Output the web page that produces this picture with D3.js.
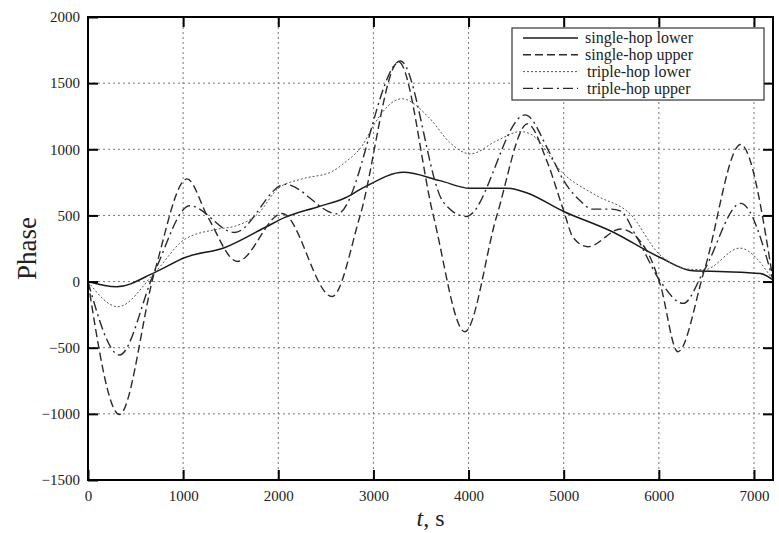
<!DOCTYPE html>
<html>
<head>
<meta charset="utf-8">
<script src="https://cdn.jsdelivr.net/npm/d3@7"></script>
<style>
  body { margin: 0; background: #fff; }
</style>
</head>
<body>
<div class="container"></div>
<script>
// values: [t in s, phase]
const xTicks = [0, 1000, 2000, 3000, 4000, 5000, 6000, 7000];
const yTicks = [-1500, -1000, -500, 0, 500, 1000, 1500, 2000];
const seriesNames = ["single-hop lower", "single-hop upper", "triple-hop lower", "triple-hop upper"];

const singleLower = [
  [0, 0], [300, -40], [704, 70], [1020, 182], [1440, 258], [1860, 409], [2070, 485],
  [2420, 566], [2700, 632], [2900, 712], [3316, 826], [3700, 763], [4017, 705],
  [4400, 705], [4600, 674], [5000, 530], [5490, 384], [6013, 182], [6360, 81],
  [6700, 75], [7066, 61], [7200, 12]
];
const singleUpper = [
  [0, 0], [330, -1005], [700, 75], [1040, 776], [1262, 485], [1570, 152], [2040, 515],
  [2565, -113], [2860, 498], [3265, 1660], [3630, 498], [3960, -379], [4297, 498],
  [4620, 1192], [4822, 914], [5000, 535], [5100, 333], [5255, 263], [5600, 397],
  [5874, 232], [6013, -18], [6200, -530], [6480, 90], [6860, 1036], [7200, 12]
];
const tripleLower = [
  [0, 0], [315, -190], [704, 70], [1020, 321], [1370, 397], [1550, 420], [1790, 515],
  [2000, 705], [2250, 776], [2560, 830], [2700, 900], [2895, 1041], [3000, 1180],
  [3298, 1382], [3596, 1230], [3800, 1053], [4017, 965], [4300, 1066], [4550, 1134],
  [4650, 1116], [5000, 813], [5348, 649], [5700, 510], [6000, 210], [6300, 95],
  [6480, 90], [6850, 253], [7200, 12]
];
const tripleUpper = [
  [0, 0], [330, -555], [700, 75], [1070, 573], [1540, 371], [2071, 735], [2620, 512],
  [3285, 1667], [3736, 599], [3975, 492], [4593, 1260], [4858, 965], [5000, 763],
  [5173, 611], [5300, 548], [5490, 548], [5594, 535], [5769, 333], [6013, 5],
  [6256, -165], [6480, 90], [6860, 591], [7200, 12]
];

const seriesData = [singleLower, singleUpper, tripleLower, tripleUpper];
const seriesDash = ["none", "8,4", "2,2", "10,4,2,4"];
const seriesColor = ["#1a1a1a", "#2a2a2a", "#555", "#2a2a2a"];
const seriesWidth = [1.5, 1.4, 1, 1.4];

function main() {
  const container = document.querySelector(".container");
  const width = 779;
  const height = 533;
  const margin = { left: 88, right: 6, top: 17, bottom: 53 };
  const font = "'Liberation Serif', 'Times New Roman', serif";
  const fmt = d3.format("d");

  const svg = d3
    .create("svg")
    .attr("width", width)
    .attr("height", height)
    .attr("viewBox", [0, 0, width, height])
    .style("display", "block");

  const x = d3
    .scaleLinear()
    .domain([0, 7200])
    .range([margin.left, width - margin.right]);

  const y = d3
    .scaleLinear()
    .domain([-1500, 2000])
    .range([height - margin.bottom, margin.top]);

  // dotted grid
  const grid = svg.append("g").attr("stroke", "#777").attr("stroke-width", 1).attr("stroke-dasharray", "2,3");
  grid
    .selectAll("line.gx")
    .data(xTicks.filter((d) => d > 0))
    .join("line")
    .attr("x1", (d) => x(d))
    .attr("x2", (d) => x(d))
    .attr("y1", y(2000))
    .attr("y2", y(-1500));
  grid
    .selectAll("line.gy")
    .data(yTicks.filter((d) => d > -1500 && d < 2000))
    .join("line")
    .attr("x1", x(0))
    .attr("x2", x(7200))
    .attr("y1", (d) => y(d))
    .attr("y2", (d) => y(d));

  const line = d3
    .line()
    .x((d) => x(d[0]))
    .y((d) => y(d[1]))
    .curve(d3.curveMonotoneX);

  svg
    .append("g")
    .selectAll("path")
    .data(seriesData)
    .join("path")
    .attr("d", line)
    .attr("fill", "none")
    .attr("stroke", (d, i) => seriesColor[i])
    .attr("stroke-width", (d, i) => seriesWidth[i])
    .attr("stroke-dasharray", (d, i) => seriesDash[i]);

  // axes, ticks pointing inward
  const styleAxis = (g) => {
    g.select(".domain").remove();
    g.selectAll(".tick line").attr("stroke", "#000").attr("stroke-width", 2);
    g.selectAll("text").style("font-family", font).style("font-size", "15px").attr("fill", "#222");
  };

  svg
    .append("g")
    .attr("transform", `translate(${x(0)},0)`)
    .call(d3.axisLeft(y).tickValues(yTicks).tickFormat(fmt).tickSize(-10).tickPadding(8))
    .call(styleAxis);

  svg
    .append("g")
    .attr("transform", `translate(${x(7200)},0)`)
    .call(d3.axisRight(y).tickValues(yTicks.slice(1, -1)).tickSize(-10).tickFormat(""))
    .call(styleAxis);

  svg
    .append("g")
    .attr("transform", `translate(0,${y(-1500)})`)
    .call(d3.axisBottom(x).tickValues(xTicks).tickFormat(fmt).tickSize(-10).tickPadding(10))
    .call(styleAxis);

  svg
    .append("g")
    .attr("transform", `translate(0,${y(2000)})`)
    .call(d3.axisTop(x).tickValues(xTicks.slice(1)).tickSize(-10).tickFormat(""))
    .call(styleAxis);

  svg
    .append("rect")
    .attr("x", x(0))
    .attr("y", y(2000))
    .attr("width", x(7200) - x(0))
    .attr("height", y(-1500) - y(2000))
    .attr("fill", "none")
    .attr("stroke", "#000")
    .attr("stroke-width", 2);

  // axis titles
  svg
    .append("text")
    .attr("transform", `translate(36,${(y(2000) + y(-1500)) / 2}) rotate(-90)`)
    .attr("text-anchor", "middle")
    .style("font-family", font)
    .style("font-size", "27px")
    .attr("fill", "#222")
    .text("Phase");

  const xt = svg
    .append("text")
    .attr("x", (x(0) + x(7200)) / 2)
    .attr("y", 526)
    .attr("text-anchor", "middle")
    .style("font-family", font)
    .style("font-size", "24px")
    .attr("fill", "#222");
  xt.append("tspan").style("font-style", "italic").text("t");
  xt.append("tspan").text(", s");

  // legend
  const legend = svg.append("g").attr("transform", "translate(512,28)");
  legend
    .append("rect")
    .attr("width", 252)
    .attr("height", 72)
    .attr("fill", "#fff")
    .attr("stroke", "#333")
    .attr("stroke-width", 1.2);

  const rows = legend
    .selectAll("g")
    .data(seriesNames)
    .join("g")
    .attr("transform", (d, i) => `translate(0,${10 + i * 16.8})`);

  rows
    .append("line")
    .attr("x1", 11)
    .attr("x2", 66)
    .attr("stroke", (d, i) => seriesColor[i])
    .attr("stroke-width", (d, i) => seriesWidth[i])
    .attr("stroke-dasharray", (d, i) => seriesDash[i]);

  rows
    .append("text")
    .attr("x", (d, i) => (i < 2 ? 73 : 75))
    .attr("dy", "0.32em")
    .style("font-family", font)
    .style("font-size", "16px")
    .attr("fill", "#222")
    .text((d) => d);

  container.append(svg.node());
}

main();
</script>
</body>
</html>
